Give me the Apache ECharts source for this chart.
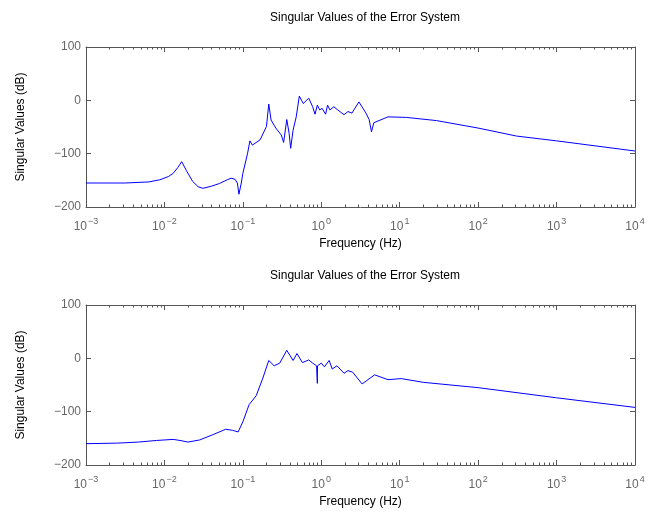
<!DOCTYPE html>
<html><head><meta charset="utf-8">
<script src="https://cdn.jsdelivr.net/npm/echarts@6/dist/echarts.min.js"></script>
<style>html,body{margin:0;padding:0;background:#fff}#c{width:660px;height:514px}</style>
</head><body><div id="c"></div>
<script>
const chartTitle = 'Singular Values of the Error System';
const xName = 'Frequency (Hz)';
const yName = 'Singular Values (dB)';
const xMin = 0.001, xMax = 10000;
const yMin = -200, yMax = 100, yStep = 100;

// top panel: frequency (Hz) and singular value (dB)
const topFreq = [0.001,0.00316,0.00631,0.00871,0.0112,0.0129,0.0148,0.0166,0.0191,0.0229,0.0269,0.0309,0.0398,0.0501,0.0631,0.0708,0.0794,0.0851,0.0891,0.0955,0.1,0.115,0.123,0.132,0.166,0.200,0.214,0.229,0.263,0.309,0.331,0.363,0.389,0.407,0.437,0.479,0.525,0.589,0.692,0.776,0.832,0.891,0.955,1.023,1.135,1.202,1.288,1.445,1.622,1.950,2.188,2.455,3.020,3.715,4.074,4.365,4.677,7.079,12.16,29.51,100,309,1000,10000];
const topDb = [-155,-155,-153,-149,-143,-137,-126,-115,-132,-152,-162,-165,-161,-156,-149,-146,-148,-155,-176,-155,-137,-99,-76,-84,-74,-49,-7,-37,-52,-65,-79,-36,-62,-90,-56,-31,8,-6,4,-12,-26,-9,-18,-15,-26,-9,-18,-12,-18,-27,-21,-24,-3,-24,-36,-59,-42,-31,-32,-38,-52,-67,-76,-95];

// bottom panel
const botFreq = [0.001,0.00251,0.00468,0.00794,0.0129,0.0158,0.0200,0.0282,0.0417,0.0603,0.0741,0.0871,0.1,0.120,0.148,0.178,0.214,0.251,0.295,0.363,0.437,0.490,0.575,0.692,0.776,0.871,0.887,0.891,0.895,1.0,1.096,1.259,1.380,1.585,1.950,2.188,2.512,3.311,4.786,7.079,10.47,19.95,100,1000,10000];
const botDb = [-160,-159,-157,-154,-152,-154,-157,-153,-143,-133,-135,-138,-119,-87,-70,-39,-4,-14,-9,15,-4,9,-8,-3,-9,-14,-14,-47,-14,-9,-16,-4,-20,-14,-28,-23,-26,-48,-31,-40,-38,-45,-55,-74,-92];

const minorTicks = [];
for (let e = -3; e < 4; e++) for (let k = 2; k <= 9; k++) minorTicks.push(+(k * Math.pow(10, e)).toPrecision(3));

const axisColor = '#555';
const labelColor = '#666';
const fontFamily = '"Liberation Sans", Arial, Helvetica, sans-serif';
const fs = 12;

function fmtExp(v) {
  const e = Math.round(Math.log10(v));
  return '{b|10}{s|' + (e < 0 ? '\u2212' + (-e) : '' + e) + '}';
}
function fmtY(v) { return v < 0 ? '\u2212' + (-v) : '' + v; }

const grids = [
  { left: 86, top: 47, width: 549, height: 160 },
  { left: 86, top: 305, width: 549, height: 160 }
];

const xAxes = [], yAxes = [];
grids.forEach((g, gi) => {
  const base = { type: 'log', logBase: 10, gridIndex: gi, min: xMin, max: xMax, splitNumber: 7, splitLine: { show: false } };
  const line = { show: true, onZero: false, lineStyle: { color: axisColor, width: 1 } };
  xAxes.push(Object.assign({}, base, {
    position: 'bottom',
    axisLine: line,
    axisTick: { show: true, inside: true, length: 5, lineStyle: { color: axisColor } },
    axisLabel: { show: true, formatter: fmtExp, margin: 10, color: labelColor, fontFamily,
      rich: { b: { fontSize: fs, color: labelColor, fontFamily }, s: { fontSize: 9, color: labelColor, fontFamily, padding: [0, 0, 10, 1] } } },
    name: xName, nameLocation: 'middle', nameGap: 31,
    nameTextStyle: { color: '#000', fontSize: fs, fontFamily }
  }));
  xAxes.push(Object.assign({}, base, {
    position: 'bottom',
    axisLine: { show: false, onZero: false },
    axisTick: { show: true, inside: true, length: 2.5, customValues: minorTicks, lineStyle: { color: axisColor } },
    axisLabel: { show: false }
  }));
  xAxes.push(Object.assign({}, base, {
    position: 'top',
    axisLine: line,
    axisTick: { show: true, inside: true, length: 5, lineStyle: { color: axisColor } },
    axisLabel: { show: false }
  }));
  xAxes.push(Object.assign({}, base, {
    position: 'top',
    axisLine: { show: false, onZero: false },
    axisTick: { show: true, inside: true, length: 2.5, customValues: minorTicks, lineStyle: { color: axisColor } },
    axisLabel: { show: false }
  }));
  const ybase = { type: 'value', gridIndex: gi, min: yMin, max: yMax, interval: yStep, splitLine: { show: false },
    axisLine: line,
    axisTick: { show: true, inside: true, length: 5, lineStyle: { color: axisColor } } };
  yAxes.push(Object.assign({}, ybase, {
    position: 'left',
    axisLabel: { show: true, formatter: fmtY, margin: 5, color: labelColor, fontSize: fs, fontFamily },
    name: yName, nameLocation: 'middle', nameGap: 59,
    nameTextStyle: { color: '#000', fontSize: fs, fontFamily }
  }));
  yAxes.push(Object.assign({}, ybase, { position: 'right', axisLabel: { show: false } }));
});

function zip(f, d) { return f.map((x, i) => [x, d[i]]); }

const chart = echarts.init(document.getElementById('c'), null, { renderer: 'canvas' });
chart.setOption({
  animation: false,
  backgroundColor: '#fff',
  title: [
    { text: chartTitle, left: 360, top: 7, textAlign: 'center', textStyle: { fontSize: fs, fontWeight: 'normal', color: '#000', fontFamily } },
    { text: chartTitle, left: 360, top: 265, textAlign: 'center', textStyle: { fontSize: fs, fontWeight: 'normal', color: '#000', fontFamily } }
  ],
  grid: grids,
  xAxis: xAxes,
  yAxis: yAxes,
  series: [
    { type: 'line', xAxisIndex: 0, yAxisIndex: 0, data: zip(topFreq, topDb), showSymbol: false, lineStyle: { color: '#0000ff', width: 1 }, itemStyle: { color: '#0000ff' } },
    { type: 'line', xAxisIndex: 4, yAxisIndex: 2, data: zip(botFreq, botDb), showSymbol: false, lineStyle: { color: '#0000ff', width: 1 }, itemStyle: { color: '#0000ff' } }
  ]
});
</script></body></html>
